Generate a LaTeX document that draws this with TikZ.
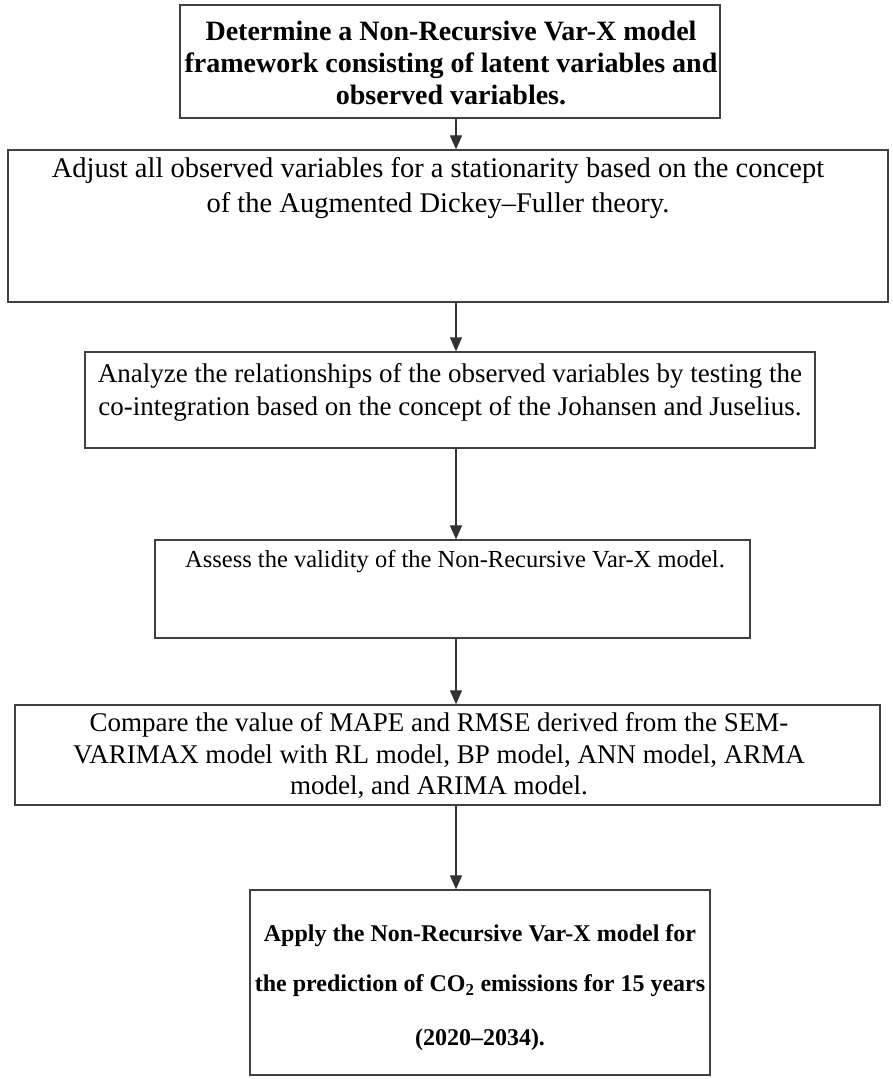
\documentclass[tikz,border=0pt]{standalone}
\usepackage{fontspec}
\setmainfont{Liberation Serif}
\usetikzlibrary{arrows.meta}
\tikzset{
  box/.style={draw=black!75, line width=1.3pt, inner sep=0pt, fill=none},
  txt/.style={align=center, inner sep=0pt, font=\fontsize{27}{33}\selectfont},
  btxt/.style={align=center, inner sep=0pt, font=\fontsize{28}{32}\selectfont\bfseries},
  arr/.style={draw=black!80, line width=1.2pt, -{Triangle[length=14pt,width=12pt]}}
}
\begin{document}
\begin{tikzpicture}[x=1pt,y=-1pt]
\useasboundingbox (0,0) rectangle (893,1079);
\fill[white] (0,0) rectangle (893,1079);

\node[box, minimum width=540pt, minimum height=113pt] (b1) at (450,61.5) {};
\node[btxt] (t1) at (451,63) {Determine a Non-Recursive Var-X model\\framework consisting of latent variables and\\observed variables.};

\node[box, minimum width=880pt, minimum height=152pt] (b2) at (448,226) {};
\node[txt, font=\fontsize{28.5}{35}\selectfont] (t2) at (438,188) {Adjust all observed variables for a stationarity based on the concept\\of the Augmented Dickey--Fuller theory.};

\node[box, minimum width=730pt, minimum height=96pt] (b3) at (450,400) {};
\node[txt] (t3) at (450,392) {Analyze the relationships of the observed variables by testing the\\co-integration based on the concept of the Johansen and Juselius.};

\node[box, minimum width=595pt, minimum height=98pt] (b4) at (452.5,589) {};
\node[txt, font=\fontsize{24.5}{30}\selectfont] (t4) at (455,562) {Assess the validity of the Non-Recursive Var-X model.};

\node[box, minimum width=865pt, minimum height=100pt] (b5) at (447.5,755) {};
\node[txt, font=\fontsize{27}{31.5}\selectfont] (t5) at (439,756) {Compare the value of MAPE and RMSE derived from the SEM-\\VARIMAX model with RL model, BP model, ANN model, ARMA\\model, and ARIMA model.};

\node[box, minimum width=460pt, minimum height=185pt] (b6) at (480,982.5) {};
\node[btxt, font=\fontsize{24}{50}\selectfont\bfseries] (t6) at (480,988) {Apply the Non-Recursive Var-X model for\\the prediction of CO\textsubscript{2} emissions for 15 years\\[4pt](2020--2034).};

\draw[arr] (b1.south -| 456,0) -- (b2.north -| 456,0);
\draw[arr] (b2.south -| 456,0) -- (b3.north -| 456,0);
\draw[arr] (b3.south -| 456,0) -- (b4.north -| 456,0);
\draw[arr] (b4.south -| 456,0) -- (b5.north -| 456,0);
\draw[arr] (b5.south -| 456,0) -- (b6.north -| 456,0);
\end{tikzpicture}
\end{document}
